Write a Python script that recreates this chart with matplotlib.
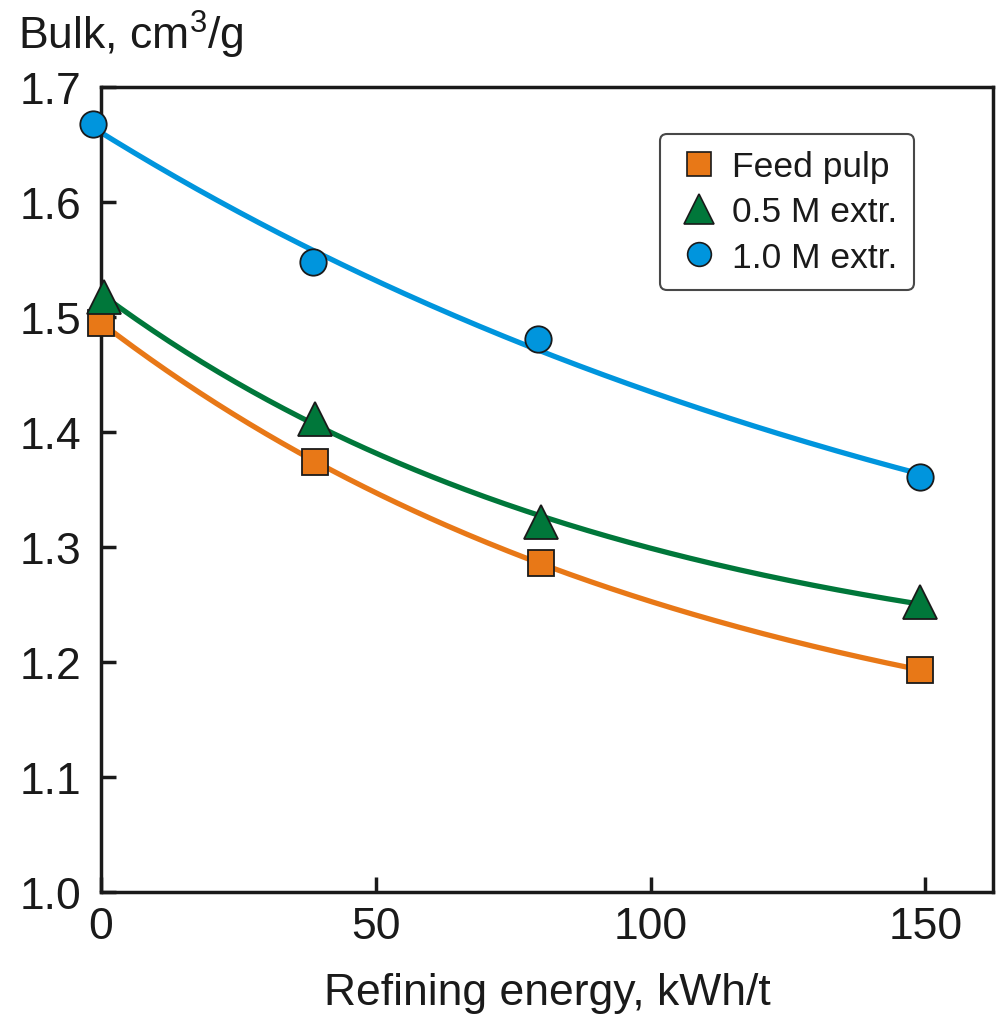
import numpy as np
import matplotlib
matplotlib.use('Agg')
import matplotlib.pyplot as plt
from matplotlib.lines import Line2D

plt.rcParams['font.family'] = ['Liberation Sans', 'DejaVu Sans']
plt.rcParams['mathtext.fontset'] = 'custom'
plt.rcParams['mathtext.rm'] = 'Liberation Sans'

# données
energy_feed = [0, 39, 80, 149]
bulk_feed = [1.495, 1.374, 1.286, 1.193]

energy_05 = [0.5, 39, 80, 149]
bulk_05 = [1.517, 1.411, 1.322, 1.252]

energy_10 = [-1.5, 38.5, 79.5, 149]
bulk_10 = [1.668, 1.548, 1.481, 1.361]

labels = ['Feed pulp', '0.5 M extr.', '1.0 M extr.']
colors = ['#E87817', '#00773A', '#0095DD']
markers = ['s', '^', 'o']
sizes = [18.5, 24, 19]

series = [(energy_feed, bulk_feed), (energy_05, bulk_05), (energy_10, bulk_10)]


def fit_exp(x, y):
    # ajustement y = a + b*exp(-k*x), k par balayage
    x = np.asarray(x, float)
    y = np.asarray(y, float)
    best = None
    for k in np.linspace(0.0005, 0.05, 400):
        A = np.column_stack([np.ones_like(x), np.exp(-k * x)])
        coef, *_ = np.linalg.lstsq(A, y, rcond=None)
        err = np.sum((A @ coef - y) ** 2)
        if best is None or err < best[0]:
            best = (err, k, coef)
    _, k, (a, b) = best
    return lambda t: a + b * np.exp(-k * t)


fig = plt.figure(figsize=(9.96, 10.2), dpi=100)
ax = fig.add_axes([0.1014, 0.1245, 0.8956, 0.7892])

for (x, y), c, m, s in zip(series, colors, markers, sizes):
    f = fit_exp(x, y)
    xx = np.linspace(x[0], x[-1], 200)
    ax.plot(xx, f(xx), color=c, lw=3.8, zorder=2, solid_capstyle='butt')
    ax.plot(x, y, ls='none', marker=m, ms=s, mfc=c, mec='#1a1a1a', mew=1.3,
            zorder=3, clip_on=False)

ax.set_xlim(0, 162.3)
ax.set_ylim(1.0, 1.7)
ax.set_xticks([0, 50, 100, 150])
ax.set_yticks(np.arange(1.0, 1.71, 0.1))
ax.set_yticklabels(['1.0', '1.1', '1.2', '1.3', '1.4', '1.5', '1.6', '1.7'])
ax.tick_params(direction='in', length=11, width=2.5, labelsize=32,
               colors='#1a1a1a', labelcolor='#1a1a1a')
ax.tick_params(axis='y', pad=14)
ax.tick_params(axis='x', pad=10)
for sp in ax.spines.values():
    sp.set_linewidth(2.5)
    sp.set_color('#1a1a1a')

ax.set_xlabel('Refining energy, kWh/t', fontsize=32, color='#1a1a1a', labelpad=18)
fig.text(0.018, 0.966, 'Bulk, cm$^3$/g', fontsize=32, color='#1a1a1a', va='center', ha='left')

handles = [Line2D([], [], ls='none', marker=m, ms=s * 0.9, mfc=c, mec='#1a1a1a', mew=1.2)
           for c, m, s in zip(colors, markers, sizes)]
leg = ax.legend(handles, labels, loc='upper right', bbox_to_anchor=(0.911, 0.9416),
                borderaxespad=0, fontsize=25.5, frameon=True, fancybox=True,
                handletextpad=0.3, labelspacing=0.35, borderpad=0.45, handlelength=1.3)
leg.get_frame().set_edgecolor('#1a1a1a')
leg.get_frame().set_linewidth(1.5)
for t in leg.get_texts():
    t.set_color('#1a1a1a')

plt.savefig('out.png', dpi=100)
